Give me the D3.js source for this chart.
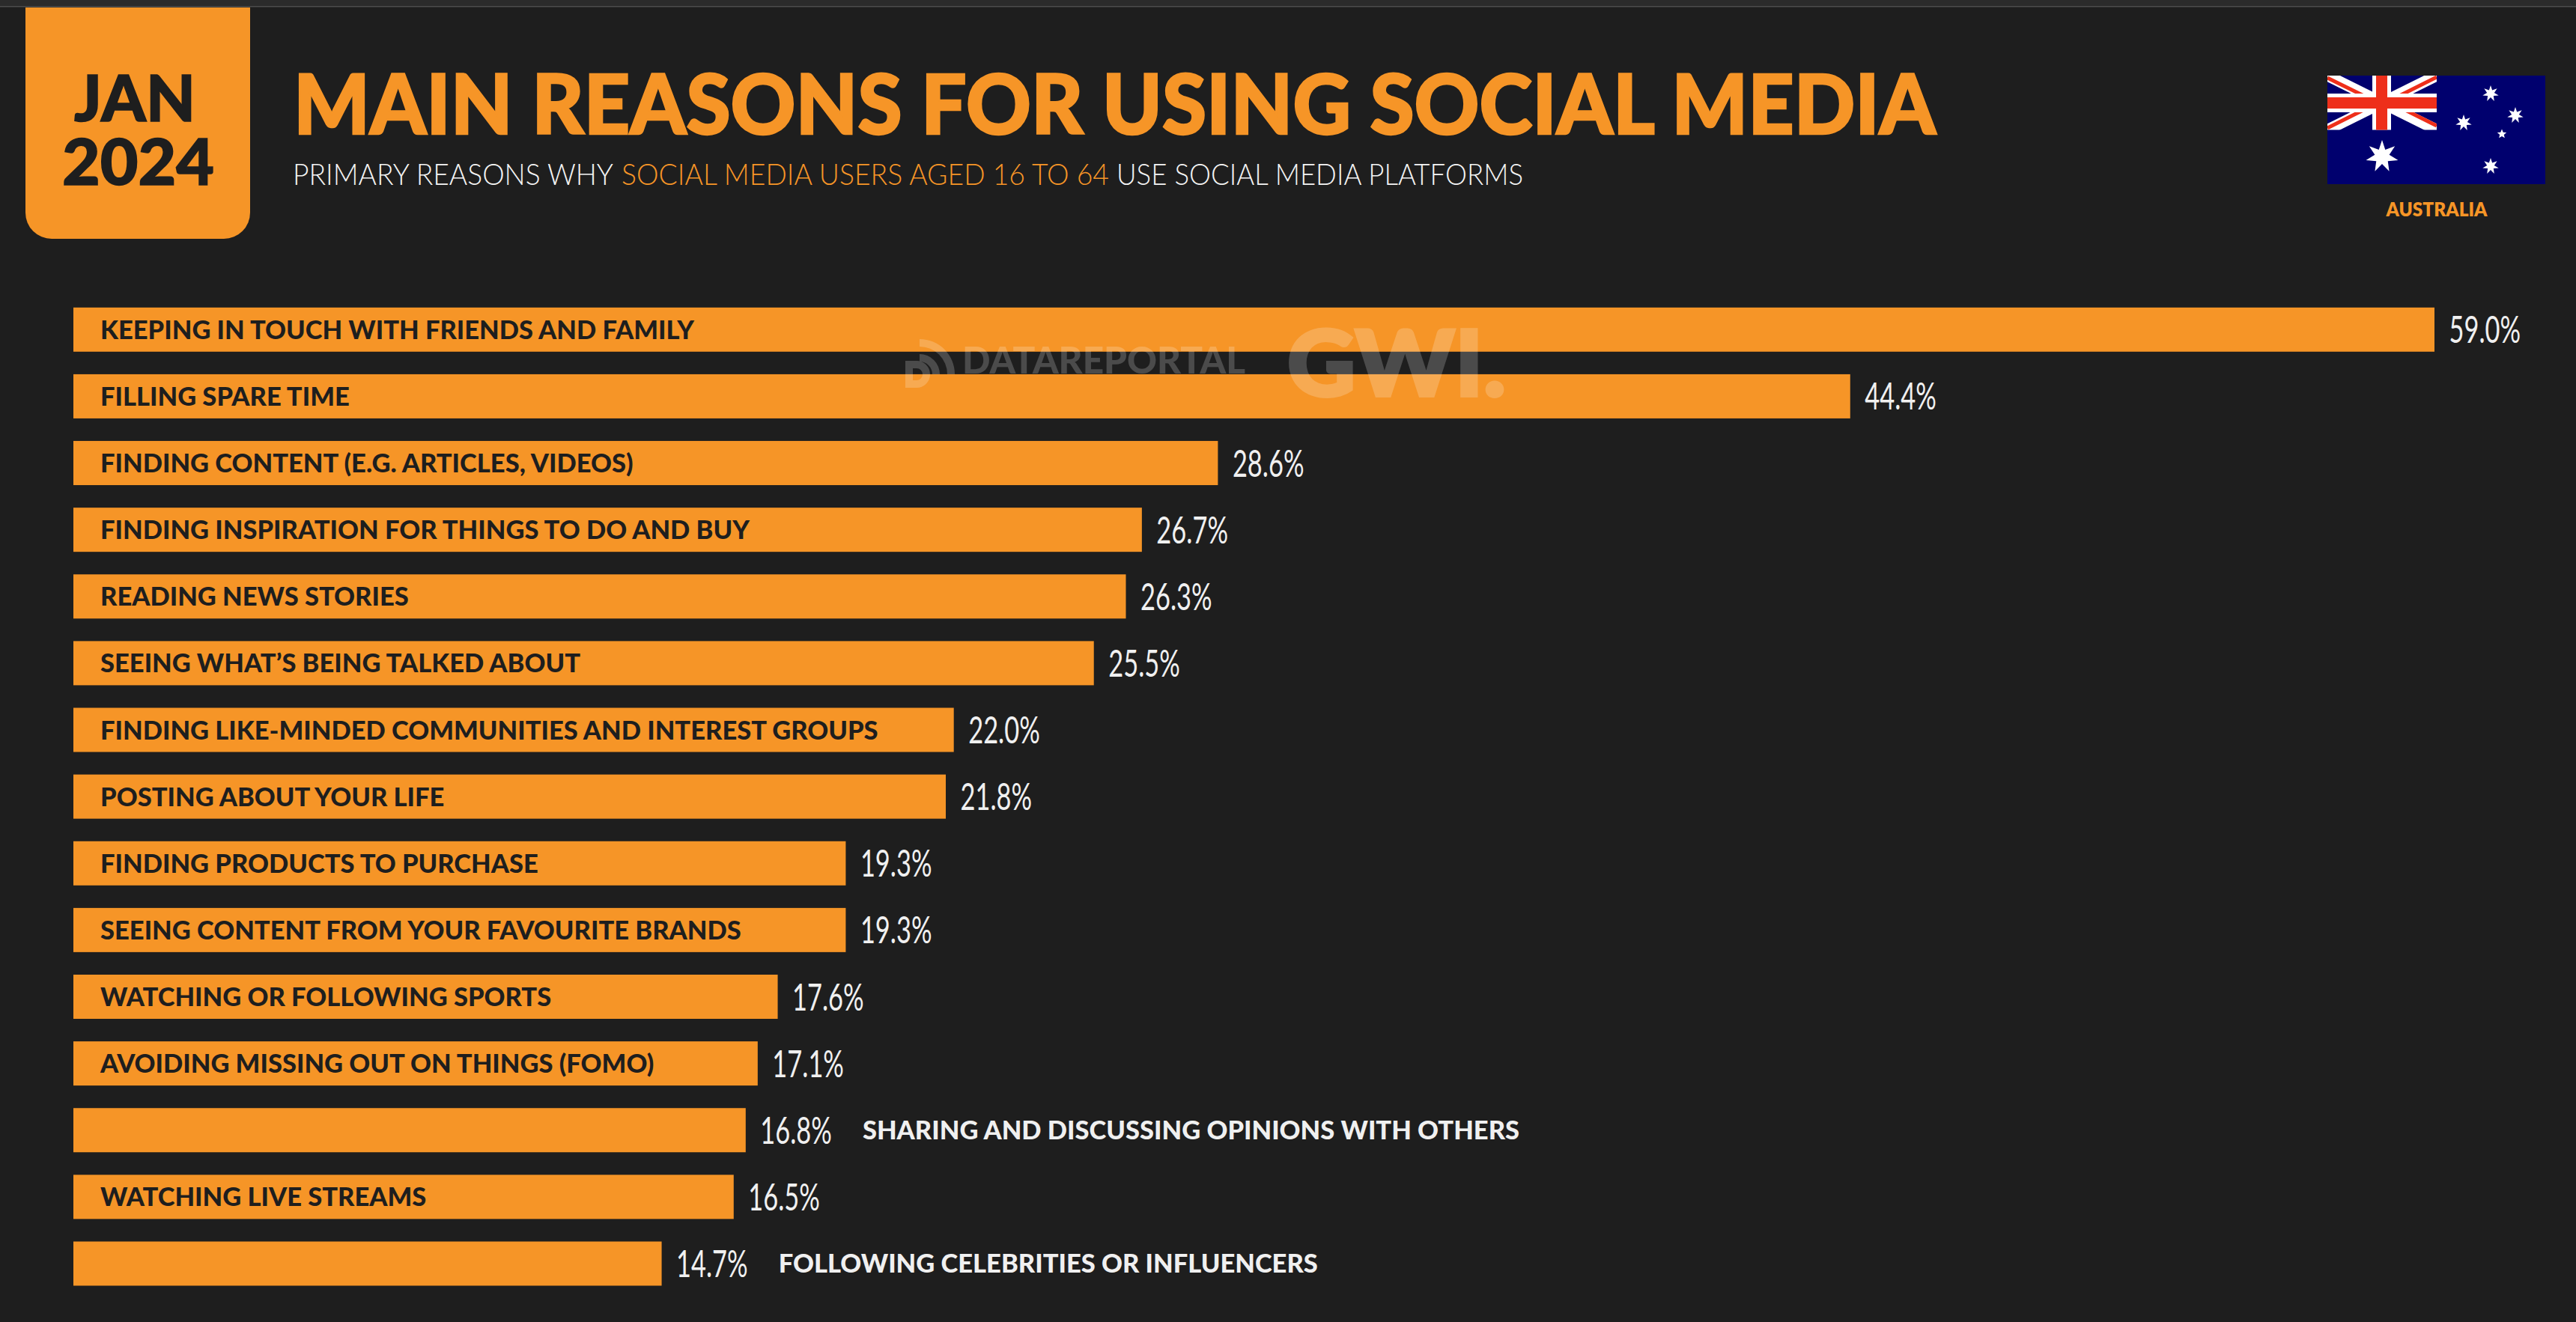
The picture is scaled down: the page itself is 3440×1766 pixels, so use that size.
<!DOCTYPE html>
<html>
<head>
<meta charset="utf-8">
<title>Main reasons for using social media</title>
<script src="https://cdn.jsdelivr.net/npm/d3@7"></script>
<style>
  html, body { margin: 0; padding: 0; background: #1e1e1e; overflow: hidden; }
  text { font-family: Lato, "Noto Sans", sans-serif; }
</style>
</head>
<body>
<script>
// Chart data
var reasons = [
  "KEEPING IN TOUCH WITH FRIENDS AND FAMILY",
  "FILLING SPARE TIME",
  "FINDING CONTENT (E.G. ARTICLES, VIDEOS)",
  "FINDING INSPIRATION FOR THINGS TO DO AND BUY",
  "READING NEWS STORIES",
  "SEEING WHAT\u2019S BEING TALKED ABOUT",
  "FINDING LIKE-MINDED COMMUNITIES AND INTEREST GROUPS",
  "POSTING ABOUT YOUR LIFE",
  "FINDING PRODUCTS TO PURCHASE",
  "SEEING CONTENT FROM YOUR FAVOURITE BRANDS",
  "WATCHING OR FOLLOWING SPORTS",
  "AVOIDING MISSING OUT ON THINGS (FOMO)",
  "SHARING AND DISCUSSING OPINIONS WITH OTHERS",
  "WATCHING LIVE STREAMS",
  "FOLLOWING CELEBRITIES OR INFLUENCERS"
];
var shares = [59.0, 44.4, 28.6, 26.7, 26.3, 25.5, 22.0, 21.8, 19.3, 19.3, 17.6, 17.1, 16.8, 16.5, 14.7];
// Labels that sit outside the bar
var outsideLabels = ["SHARING AND DISCUSSING OPINIONS WITH OTHERS", "FOLLOWING CELEBRITIES OR INFLUENCERS"];

var orange = "#f69527", dark = "#1e1e1e", light = "#f0f0f0";

var svg = d3.select("body").append("svg")
    .attr("width", 3440)
    .attr("height", 1766);

// Squeeze a text to a factor of its natural width (Futura isn't installed)
function condense(sel, factor) {
  sel.each(function() {
    d3.select(this)
      .attr("lengthAdjust", "spacingAndGlyphs")
      .attr("textLength", this.getComputedTextLength() * factor);
  });
}

function fitText(node, width) {
  node.attr("lengthAdjust", "spacingAndGlyphs").attr("textLength", width);
}

function addText(x, y, str, size, weight, fill, width) {
  var t = svg.append("text")
      .attr("x", x)
      .attr("y", y)
      .attr("font-size", size)
      .attr("font-weight", weight)
      .attr("fill", fill)
      .text(str);
  if(width) fitText(t, width);
  return t;
}

// Browser strip along the top
svg.append("rect").attr("width", 3440).attr("height", 1766).attr("fill", dark);
svg.append("rect").attr("width", 3440).attr("height", 9).attr("fill", "#2b2b2b");
svg.append("rect").attr("y", 8).attr("width", 3440).attr("height", 1.5).attr("fill", "#4d4d4d");

// Date badge
svg.append("path")
    .attr("d", "M34,10H334V284A35,35 0 0 1 299,319H69A35,35 0 0 1 34,284Z")
    .attr("fill", orange);
addText(99, 162, "JAN", 86, 900, dark, 162).attr("stroke", dark).attr("stroke-width", 1.5);
addText(83, 247, "2024", 86, 900, dark, 203).attr("stroke", dark).attr("stroke-width", 1.5);

// Headings
addText(392, 179, "MAIN REASONS FOR USING SOCIAL MEDIA", 110, 900, orange, 2193)
    .attr("stroke", orange).attr("stroke-width", 2.5);
addText(391, 246.5, "PRIMARY REASONS WHY", 39, 300, "#f4f4f4", 428);
addText(830, 246.5, "SOCIAL MEDIA USERS AGED 16 TO 64", 39, 300, orange, 651);
addText(1491, 246.5, "USE SOCIAL MEDIA PLATFORMS", 39, 300, "#f4f4f4", 543);

// Scales
var x = d3.scaleLinear().domain([0, 59]).range([98, 3251]);
var y = d3.scaleBand().domain(reasons)
    .range([410.8, 410.8 + 14 * 89.12 + 59])
    .paddingInner(30.12 / 89.12)
    .paddingOuter(0);

var rows = d3.zip(reasons, shares).map(function(d) {
  return { reason: d[0], share: d[1], outside: outsideLabels.indexOf(d[0]) >= 0 };
});

// Bars
svg.selectAll(".bar").data(rows).enter()
  .append("rect")
    .attr("class", "bar")
    .attr("x", x(0))
    .attr("y", function(d) { return y(d.reason); })
    .attr("width", function(d) { return x(d.share) - x(0); })
    .attr("height", y.bandwidth())
    .attr("fill", orange);

// Values
var valueFactor = 0.675;
var valueLabels = svg.selectAll(".value").data(rows).enter()
  .append("text")
    .attr("class", "value")
    .attr("x", function(d) { return x(d.share) + 19.5; })
    .attr("y", function(d) { return y(d.reason) + y.bandwidth() / 2 + 18; })
    .attr("font-size", 51)
    .attr("font-weight", 400)
    .attr("fill", light)
    .text(function(d) { return d.share.toFixed(1) + "%"; })
    .call(condense, valueFactor);

// Reasons, inside the bar or after the value
var labelFactor = 1.015;
svg.selectAll(".reason").data(rows).enter()
  .append("text")
    .attr("class", "reason")
    .attr("x", function(d, i) {
      if(!d.outside) return x(0) + 36;
      return x(d.share) + 19.5 + valueLabels.nodes()[i].getComputedTextLength() + 41;
    })
    .attr("y", function(d) { return y(d.reason) + y.bandwidth() / 2 + 12.5; })
    .attr("font-size", 34)
    .attr("font-weight", 900)
    .attr("fill", function(d) { return d.outside ? light : dark; })
    .text(function(d) { return d.reason; })
    .call(condense, labelFactor);

// Watermark on top of the bars
var mark = svg.append("g").attr("fill", "#fff").attr("opacity", 0.2);
var arcGen = d3.arc();
[[37, 47], [17, 27]].forEach(function(r) {
  mark.append("path")
      .attr("transform", "translate(1228,500)")
      .attr("d", arcGen({ innerRadius: r[0], outerRadius: r[1], startAngle: 0, endAngle: Math.PI / 2 }));
});
mark.append("path")
    .attr("fill-rule", "evenodd")
    .attr("d", "M1209,482H1224A18,18 0 0 1 1224,518H1209ZM1219,492V508H1224A8,8 0 0 0 1224,492Z");
mark.append("text").attr("x", 1285).attr("y", 499).attr("font-size", 50).attr("font-weight", 900)
    .text("DATAREPORTAL").call(fitText, 378);
mark.append("text").attr("x", 1719).attr("y", 529).attr("font-size", 122).attr("font-weight", 900)
    .attr("stroke", "#fff").attr("stroke-width", 4)
    .text("GWI.").call(fitText, 292);

// Flag
var flag = svg.append("g");
var navy = "#00006e", red = "#ee2f1a";
flag.append("rect").attr("x", 3108).attr("y", 101).attr("width", 291).attr("height", 145).attr("fill", navy);
svg.append("clipPath").attr("id", "canton")
  .append("rect").attr("x", 3108).attr("y", 101).attr("width", 146).attr("height", 72.5);
var jack = flag.append("g").attr("clip-path", "url(#canton)");

function jackLine(x1, y1, x2, y2, color, w) {
  jack.append("line")
      .attr("x1", x1).attr("y1", y1).attr("x2", x2).attr("y2", y2)
      .attr("stroke", color).attr("stroke-width", w);
}
jackLine(3108, 101, 3254, 173.5, "#fff", 15);
jackLine(3108, 173.5, 3254, 101, "#fff", 15);
jackLine(3108, 104, 3170, 134.5, red, 5);
jackLine(3192, 137, 3254, 168, red, 5);
jackLine(3108, 171, 3170, 140, red, 5);
jackLine(3192, 134, 3254, 103, red, 5);
jack.append("rect").attr("x", 3168).attr("y", 101).attr("width", 25).attr("height", 73).attr("fill", "#fff");
jack.append("rect").attr("x", 3108).attr("y", 125).attr("width", 146).attr("height", 25).attr("fill", "#fff");
jack.append("rect").attr("x", 3173).attr("y", 101).attr("width", 15).attr("height", 73).attr("fill", red);
jack.append("rect").attr("x", 3108).attr("y", 130).attr("width", 146).attr("height", 15).attr("fill", red);

function star(cx, cy, r, points) {
  var pts = d3.range(points * 2).map(function(i) {
    return [i * Math.PI / points, i % 2 ? r * 0.45 : r];
  });
  flag.append("path")
      .attr("transform", "translate(" + cx + "," + cy + ")")
      .attr("d", d3.lineRadial().curve(d3.curveLinearClosed)(pts))
      .attr("fill", "#fff");
}
star(3181, 209, 22, 7);
star(3326, 125, 11, 7);
star(3359, 154, 11, 7);
star(3290, 164, 11, 7);
star(3341, 179, 6.5, 5);
star(3326, 222, 11, 7);

addText(3254, 288.7, "AUSTRALIA", 26, 800, orange, 135).attr("text-anchor", "middle");
</script>
</body>
</html>
